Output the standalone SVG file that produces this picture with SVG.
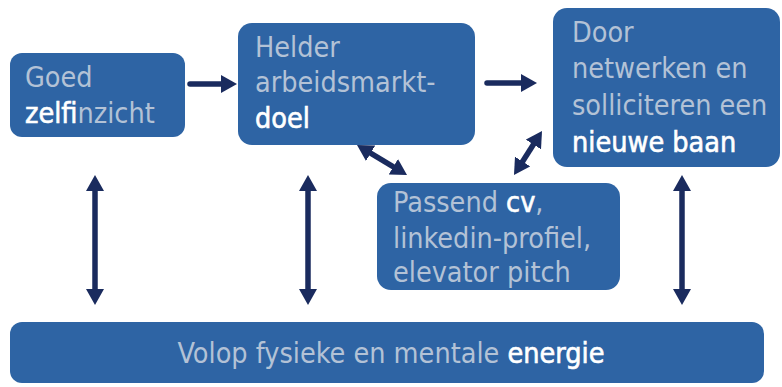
<svg xmlns="http://www.w3.org/2000/svg" width="782" height="387" viewBox="0 0 782 387">
  <style>
    .box { fill: #2e64a4; }
    .txt { font-family: "DejaVu Sans Condensed", "DejaVu Sans", sans-serif; font-stretch: condensed; font-size: 28.5px; fill: #b3c2d6; }
    .hi { fill: #ffffff; stroke: #ffffff; stroke-width: 0.6; }
    .con { stroke: #1a2b5e; stroke-width: 5.5; fill: none; }
  </style>
  <defs>
    <marker id="head" markerUnits="userSpaceOnUse" markerWidth="18" markerHeight="18" refX="5" refY="9" orient="auto-start-reverse">
      <path d="M0,0 L16,9 L0,18 z" fill="#1a2b5e"/>
    </marker>
  </defs>

  <g id="node-zelfinzicht">
    <rect class="box" x="10" y="53" width="175" height="84" rx="12"/>
    <text class="txt" x="25" y="87">Goed</text>
    <text class="txt" x="25" y="123"><tspan class="hi">zelfi</tspan>nzicht</text>
  </g>

  <g id="node-doel">
    <rect class="box" x="238" y="23" width="237" height="122" rx="14"/>
    <text class="txt" x="255" y="57">Helder</text>
    <text class="txt" x="255" y="92">arbeidsmarkt-</text>
    <text class="txt" x="255" y="128"><tspan class="hi">doel</tspan></text>
  </g>

  <g id="node-baan">
    <rect class="box" x="553" y="8" width="227" height="159" rx="14"/>
    <text class="txt" x="572" y="42">Door</text>
    <text class="txt" x="572" y="78">netwerken en</text>
    <text class="txt" x="572" y="115">solliciteren een</text>
    <text class="txt" x="572" y="152"><tspan class="hi">nieuwe baan</tspan></text>
  </g>

  <g id="node-cv">
    <rect class="box" x="377" y="183" width="243" height="107" rx="14"/>
    <text class="txt" x="393" y="212">Passend <tspan class="hi">cv</tspan>,</text>
    <text class="txt" x="393" y="248">linkedin-profiel,</text>
    <text class="txt" x="393" y="282">elevator pitch</text>
  </g>

  <g id="node-energie">
    <rect class="box" x="10" y="322" width="754" height="61" rx="12"/>
    <text class="txt" x="391" y="363" text-anchor="middle">Volop fysieke en mentale <tspan class="hi">energie</tspan></text>
  </g>

  <g id="connectors">
    <line class="con" x1="190" y1="84" x2="226" y2="84" stroke-linecap="round" marker-end="url(#head)"/>
    <line class="con" x1="487" y1="83" x2="526" y2="83" stroke-linecap="round" marker-end="url(#head)"/>
    <line class="con" x1="366.4" y1="150.6" x2="397.6" y2="169.4" marker-start="url(#head)" marker-end="url(#head)"/>
    <line class="con" x1="536.1" y1="140.3" x2="519.9" y2="165.7" marker-start="url(#head)" marker-end="url(#head)"/>
    <line class="con" x1="95" y1="186" x2="95" y2="294" marker-start="url(#head)" marker-end="url(#head)"/>
    <line class="con" x1="308" y1="186" x2="308" y2="294" marker-start="url(#head)" marker-end="url(#head)"/>
    <line class="con" x1="682" y1="186" x2="682" y2="294" marker-start="url(#head)" marker-end="url(#head)"/>
  </g>
</svg>
